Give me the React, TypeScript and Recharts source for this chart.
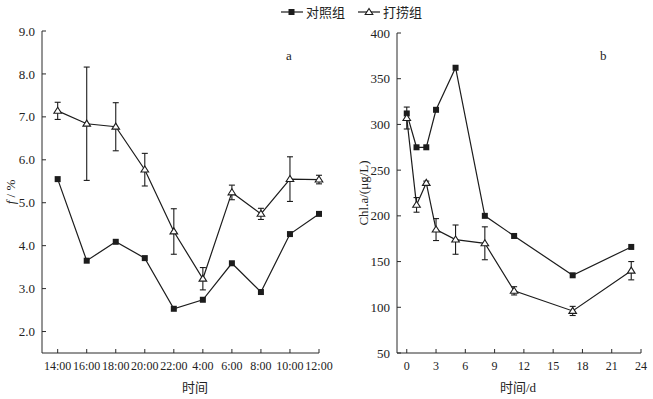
import React from "react";
import { LineChart, Line, XAxis, YAxis, ErrorBar } from "recharts";

// panel a: time of day
const hours = ["14:00", "16:00", "18:00", "20:00", "22:00", "4:00", "6:00", "8:00", "10:00", "12:00"];
const controlF = [5.55, 3.65, 4.09, 3.71, 2.53, 2.74, 3.59, 2.92, 4.27, 4.74];
const salvageF = [7.14, 6.84, 6.77, 5.77, 4.33, 3.23, 5.24, 4.74, 5.55, 5.54];
const salvageFErr = [0.2, 1.32, 0.56, 0.38, 0.53, 0.26, 0.17, 0.13, 0.52, 0.1];
const fTicks = [2, 3, 4, 5, 6, 7, 8, 9];

// panel b: days
const days = [0, 1, 2, 3, 5, 8, 11, 17, 23];
const controlChl = [312, 275, 275, 316, 362, 200, 178, 135, 166];
const salvageChl = [307, 212, 236, 185, 174, 170, 118, 96, 140];
const salvageChlErr = [12, 8, 2, 12, 16, 18, 4.5, 5, 10];
const chlTicks = [50, 100, 150, 200, 250, 300, 350, 400];
const dayTicks = [0, 3, 6, 9, 12, 15, 18, 21, 24];

const INK = "#1c1c1c";
const AXIS = "#2a2a2a";
const SERIF = "'Liberation Serif', 'Times New Roman', serif";
const CJK = "'Liberation Serif', 'Noto Sans CJK SC', serif";

const dataA = hours.map((h, i) => ({
  i,
  label: h,
  control: controlF[i],
  salvage: salvageF[i],
  salvageErr: salvageFErr[i],
}));

const dataB = days.map((d, i) => ({
  day: d,
  control: controlChl[i],
  salvage: salvageChl[i],
  salvageErr: salvageChlErr[i],
}));

const yTickStyle = { fill: "#222", fontSize: 13, fontFamily: SERIF };
const xTickStyle = { fill: "#222", fontSize: 12, fontFamily: SERIF };

const SquareDot = (props: any) => {
  const { cx, cy, index } = props;
  if (cx == null || cy == null) return <g key={`s${index}`} />;
  return <rect key={`s${index}`} x={cx - 3} y={cy - 3} width={6} height={6} fill={INK} />;
};

const TriangleDot = (props: any) => {
  const { cx, cy, index } = props;
  if (cx == null || cy == null) return <g key={`t${index}`} />;
  const pts = `${cx},${cy - 3.6} ${cx - 3.8},${cy + 2.4} ${cx + 3.8},${cy + 2.4}`;
  return <polygon key={`t${index}`} points={pts} fill="#fff" stroke={INK} strokeWidth={1.1} />;
};

const abs = (left: number, top: number, extra: React.CSSProperties = {}): React.CSSProperties => ({
  position: "absolute",
  left,
  top,
  lineHeight: 1,
  whiteSpace: "nowrap",
  color: "#222",
  ...extra,
});

export default function App() {
  return (
    <div style={{ position: "absolute", left: 0, top: 0, width: 653, height: 399, background: "#fff", overflow: "hidden" }}>
      {/* legend */}
      <div style={abs(280, 5, { display: "flex", alignItems: "center", fontFamily: CJK, fontSize: 13 })}>
        <svg width={24} height={14}>
          <line x1={1} y1={7} x2={23} y2={7} stroke={INK} strokeWidth={1.2} />
          <rect x={8.5} y={4} width={6} height={6} fill={INK} />
        </svg>
        <span style={{ marginLeft: 2 }}>对照组</span>
        <svg width={24} height={14} style={{ marginLeft: 12 }}>
          <line x1={1} y1={7} x2={23} y2={7} stroke={INK} strokeWidth={1.2} />
          <polygon points="12,3.5 8.2,9.5 15.8,9.5" fill="#fff" stroke={INK} strokeWidth={1.1} />
        </svg>
        <span style={{ marginLeft: 2 }}>打捞组</span>
      </div>

      {/* panel a */}
      <div style={{ position: "absolute", left: 0, top: 0 }}>
        <LineChart width={345} height={399} data={dataA} margin={{ top: 31, right: 26, bottom: 0, left: 0 }}>
          <XAxis
            dataKey="i"
            type="number"
            domain={[-0.54, 9]}
            ticks={hours.map((_, i) => i)}
            tickFormatter={(v: number) => hours[v] ?? ""}
            interval={0}
            height={46}
            stroke={AXIS}
            tickSize={-4}
            tickMargin={12}
            tick={xTickStyle}
          />
          <YAxis
            type="number"
            domain={[1.5, 9]}
            ticks={fTicks}
            tickFormatter={(v: number) => v.toFixed(1)}
            interval={0}
            width={42}
            stroke={AXIS}
            tickSize={-4}
            tickMargin={11}
            tick={yTickStyle}
          />
          <Line
            dataKey="control"
            type="linear"
            stroke={INK}
            strokeWidth={1.2}
            dot={SquareDot}
            activeDot={false}
            isAnimationActive={false}
          />
          <Line
            dataKey="salvage"
            type="linear"
            stroke={INK}
            strokeWidth={1.2}
            dot={TriangleDot}
            activeDot={false}
            isAnimationActive={false}
          >
            <ErrorBar dataKey="salvageErr" width={3} stroke={INK} strokeWidth={1.1} direction="y" />
          </Line>
        </LineChart>
      </div>
      <div style={abs(286, 49, { fontFamily: SERIF, fontSize: 13 })}>a</div>
      <div style={abs(10, 192, { fontFamily: SERIF, fontSize: 13, transform: "translate(-50%, -50%) rotate(-90deg)" })}>
        <span style={{ fontStyle: "italic" }}>f</span> / %
      </div>
      <div style={abs(195, 387, { fontFamily: CJK, fontSize: 13, transform: "translate(-50%, -50%)" })}>时间</div>

      {/* panel b */}
      <div style={{ position: "absolute", left: 330, top: 0 }}>
        <LineChart width={323} height={399} data={dataB} margin={{ top: 33, right: 12, bottom: 0, left: 0 }}>
          <XAxis
            dataKey="day"
            type="number"
            domain={[-1, 24]}
            ticks={dayTicks}
            interval={0}
            height={46}
            stroke={AXIS}
            tickSize={-4}
            tickMargin={12}
            tick={xTickStyle}
          />
          <YAxis
            type="number"
            domain={[50, 400]}
            ticks={chlTicks}
            interval={0}
            width={67}
            stroke={AXIS}
            tickSize={-4}
            tickMargin={11}
            tick={yTickStyle}
          />
          <Line
            dataKey="control"
            type="linear"
            stroke={INK}
            strokeWidth={1.2}
            dot={SquareDot}
            activeDot={false}
            isAnimationActive={false}
          />
          <Line
            dataKey="salvage"
            type="linear"
            stroke={INK}
            strokeWidth={1.2}
            dot={TriangleDot}
            activeDot={false}
            isAnimationActive={false}
          >
            <ErrorBar dataKey="salvageErr" width={3} stroke={INK} strokeWidth={1.1} direction="y" />
          </Line>
        </LineChart>
      </div>
      <div style={abs(600, 49, { fontFamily: SERIF, fontSize: 13 })}>b</div>
      <div style={abs(363, 193, { fontFamily: SERIF, fontSize: 13, transform: "translate(-50%, -50%) rotate(-90deg)" })}>
        Chl.a/(μg/L)
      </div>
      <div style={abs(518, 387, { fontFamily: CJK, fontSize: 13, transform: "translate(-50%, -50%)" })}>时间/d</div>
    </div>
  );
}
